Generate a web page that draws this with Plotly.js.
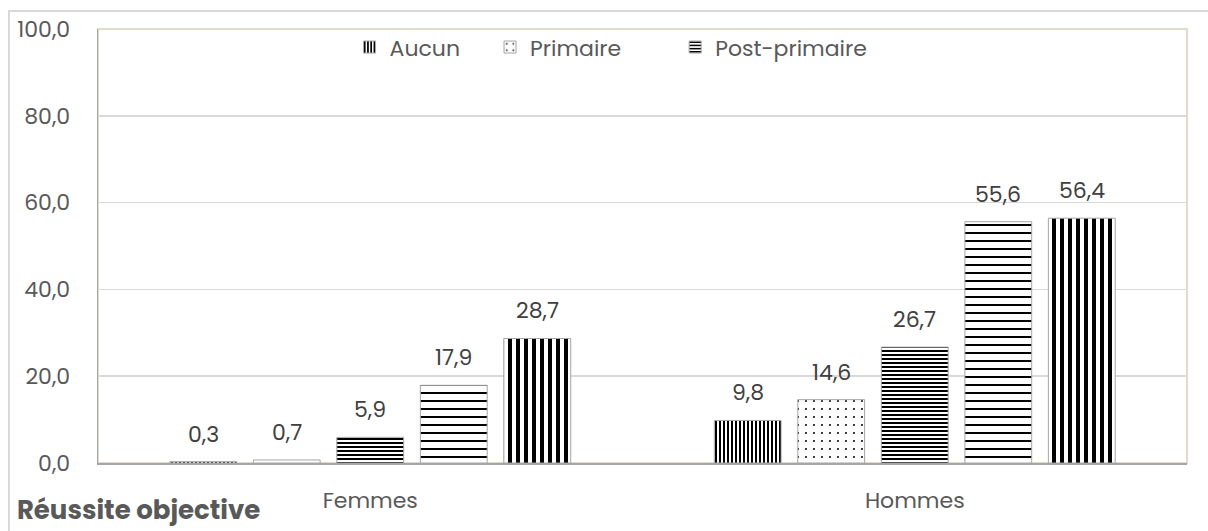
<!DOCTYPE html>
<html>
<head>
<meta charset="utf-8">
<script src="https://cdn.plot.ly/plotly-3.0.1.min.js"></script>
<style>
  html, body { margin: 0; padding: 0; background: #fff; overflow: hidden; }
  #frame { position: absolute; left: 8px; top: 10px; width: 1300px; height: 600px;
           border-left: 2px solid #d9d9d9; border-top: 2px solid #d9d9d9; box-sizing: border-box; }
  #chart { position: absolute; left: 0; top: 0; width: 1208px; height: 531px; }
</style>
</head>
<body>
<div id="frame"></div>
<div id="chart"></div>
<script>
// ---- data ----
const categories = ["Femmes", "Hommes"];
const seriesNames = ["Aucun", "Primaire", "Post-primaire", "Série 4", "Série 5"];
const showInLegend = [true, true, true, false, false];
const s1 = [0.3, 9.8];
const s2 = [0.7, 14.6];
const s3 = [5.9, 26.7];
const s4 = [17.9, 55.6];
const s5 = [28.7, 56.4];
const chartTitle = "Réussite objective";

// ---- styles ----
const seriesValues = [s1, s2, s3, s4, s5];
const patterns = [
  {shape: "|", size: 4, solidity: 0.5},
  {shape: ".", size: 8, solidity: 0.05},
  {shape: "-", size: 4, solidity: 0.5},
  {shape: "-", size: 8, solidity: 0.25},
  {shape: "|", size: 8, solidity: 0.5}
];
const legendIds = ["legend", "legend2", "legend3", "legend", "legend"];
const legendX = {legend: 0.231, legend2: 0.360, legend3: 0.530};
const FONT = "Poppins, Inter, 'Open Sans', sans-serif";
const FS = 22;

const fmt = v => v.toFixed(1).replace(".", ",");

const traces = seriesValues.map((vals, i) => ({
  type: "bar",
  name: seriesNames[i],
  x: categories,
  y: vals,
  showlegend: showInLegend[i],
  legend: legendIds[i],
  marker: {
    color: "#ffffff",
    line: {color: "#a5a5a5", width: 1},
    pattern: Object.assign({fgcolor: "#000000", bgcolor: "#ffffff", fillmode: "replace", fgopacity: 1}, patterns[i])
  },
  hoverinfo: "x+y+name"
}));

function legendBox(x) {
  return {
    orientation: "h",
    x: x, xanchor: "left",
    y: 0.958, yanchor: "middle",
    bgcolor: "rgba(0,0,0,0)",
    font: {family: FONT, size: FS, color: "#595959"},
    itemwidth: 30
  };
}

const layout = {
  width: 1208,
  height: 531,
  margin: {l: 98, r: 21, t: 29, b: 68},
  paper_bgcolor: "rgba(0,0,0,0)",
  plot_bgcolor: "#ffffff",
  separators: ",.",
  barmode: "group",
  bargap: 0.233,
  bargroupgap: 0.2,
  font: {family: FONT, size: FS, color: "#595959"},
  title: {
    text: "<b>" + chartTitle + "</b>",
    xref: "container", yref: "container",
    x: 0.014, xanchor: "left",
    y: 0.04, yanchor: "middle",
    font: {family: FONT, size: 26, color: "#595959"}
  },
  legend: legendBox(legendX.legend),
  legend2: legendBox(legendX.legend2),
  legend3: legendBox(legendX.legend3),
  xaxis: {
    type: "category",
    showgrid: false,
    showline: true,
    linecolor: "#a6a6a6",
    linewidth: 1.5,
    ticks: "",
    ticklabelstandoff: 17,
    tickfont: {family: FONT, size: FS, color: "#595959"},
    zeroline: false
  },
  yaxis: {
    range: [0, 100],
    dtick: 20,
    tick0: 0,
    tickformat: ".1f",
    showgrid: true,
    gridcolor: "#d9d9d9",
    gridwidth: 1.5,
    showline: true,
    linecolor: "#a6a6a6",
    linewidth: 1.5,
    ticks: "",
    ticklabelstandoff: 22,
    tickfont: {family: FONT, size: FS, color: "#595959"},
    zeroline: false
  },
  shapes: [{
    type: "rect", xref: "x domain", yref: "y domain",
    x0: 0, x1: 1, y0: 0, y1: 1,
    line: {color: "#d6d1b8", width: 1.5},
    layer: "below"
  }]
};

const gd = document.getElementById("chart");
Plotly.newPlot(gd, traces, layout, {displayModeBar: false, staticPlot: true}).then(() => {
  // value labels placed at the bar centres computed by Plotly itself
  const annotations = [];
  gd.calcdata.forEach((cd, i) => {
    cd.forEach((pt, j) => {
      const centre = (pt.p0 !== undefined && pt.p1 !== undefined) ? (pt.p0 + pt.p1) / 2 : pt.p;
      annotations.push({
        xref: "x", yref: "y",
        x: centre, y: seriesValues[i][j],
        text: fmt(seriesValues[i][j]),
        showarrow: false,
        xanchor: "center", yanchor: "bottom",
        yshift: 10,
        font: {family: FONT, size: FS, color: "#404040"}
      });
    });
  });
  return Plotly.relayout(gd, {annotations: annotations});
});
</script>
</body>
</html>
